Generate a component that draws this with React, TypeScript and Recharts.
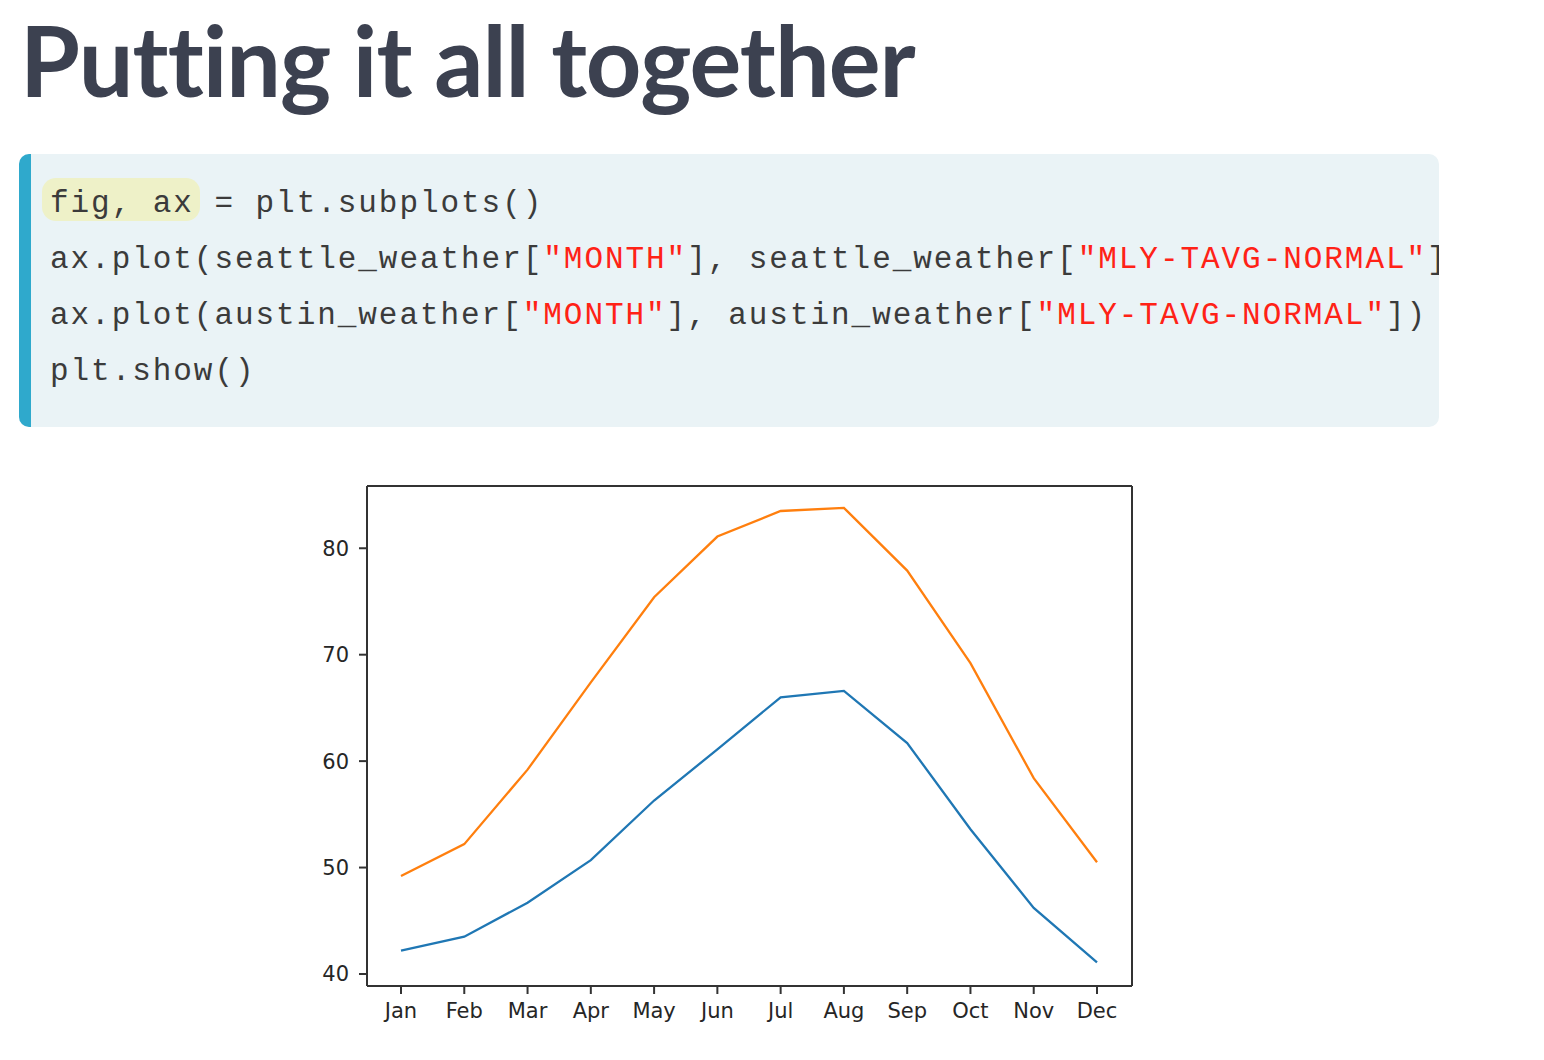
import React from "react";
import { LineChart, Line, XAxis, YAxis } from "recharts";

const months = ["Jan", "Feb", "Mar", "Apr", "May", "Jun", "Jul", "Aug", "Sep", "Oct", "Nov", "Dec"];
const seattleTemp = [42.2, 43.5, 46.7, 50.7, 56.3, 61.1, 66.0, 66.6, 61.7, 53.6, 46.2, 41.1];
const austinTemp = [49.2, 52.2, 59.2, 67.4, 75.4, 81.1, 83.5, 83.8, 77.9, 69.2, 58.4, 50.5];
const yTicks = [40, 50, 60, 70, 80];
const yDomain = [38.87, 85.85];

const data = months.map((m, i) => ({ month: m, seattle: seattleTemp[i], austin: austinTemp[i] }));

const codeFont = "'Liberation Mono', 'DejaVu Sans Mono', monospace";
const textColor = "#3b3b3b";
const strColor = "#ff2216";

const S = ({ children }: { children: React.ReactNode }) => <span style={{ color: strColor }}>{children}</span>;

const tickStyle = { fill: "#262626", fontSize: 21, fontFamily: "'DejaVu Sans', sans-serif" };
const frame = { stroke: "#333", strokeWidth: 2 };

export default function App() {
  return (
    <div style={{ position: "absolute", left: 0, top: 0, width: 1544, height: 1060, background: "#fff", overflow: "hidden" }}>
      <div
        style={{
          position: "absolute",
          left: 20,
          top: 0,
          fontFamily: "Lato, sans-serif",
          fontWeight: 700,
          fontSize: 97,
          lineHeight: "120px",
          color: "#3c4150",
          whiteSpace: "nowrap",
          letterSpacing: -1,
        }}
      >
        Putting it all together
      </div>

      <div
        style={{
          position: "absolute",
          left: 19,
          top: 154,
          width: 1420,
          height: 273,
          background: "#eaf3f6",
          borderRadius: 10,
          overflow: "hidden",
        }}
      >
        <div style={{ position: "absolute", left: 0, top: 0, width: 12, height: 273, background: "#2fa9cc" }} />
        <div
          style={{
            position: "absolute",
            left: 23,
            top: 24,
            width: 158,
            height: 43,
            background: "#eef1c8",
            borderRadius: 14,
          }}
        />
        <pre
          style={{
            position: "absolute",
            left: 31,
            top: 22,
            margin: 0,
            fontFamily: codeFont,
            fontSize: 31,
            letterSpacing: 1.95,
            lineHeight: "56px",
            color: textColor,
            whiteSpace: "pre",
          }}
        >
          {"fig, ax = plt.subplots()\n"}
          {"ax.plot(seattle_weather["}<S>"MONTH"</S>{"], seattle_weather["}<S>"MLY-TAVG-NORMAL"</S>{"])\n"}
          {"ax.plot(austin_weather["}<S>"MONTH"</S>{"], austin_weather["}<S>"MLY-TAVG-NORMAL"</S>{"])\n"}
          {"plt.show()"}
        </pre>
      </div>

      <div style={{ position: "absolute", left: 280, top: 470 }}>
        <LineChart
          width={880}
          height={580}
          data={data}
          margin={{ top: 15, left: 27, right: 27, bottom: 34 }}
        >
          <XAxis
            dataKey="month"
            xAxisId="bottom"
            height={30}
            padding={{ left: 34, right: 35 }}
            axisLine={frame}
            tickLine={frame}
            tickSize={8}
            tickMargin={9}
            tick={tickStyle}
            interval={0}
          />
          <XAxis
            dataKey="month"
            xAxisId="top"
            orientation="top"
            height={1}
            padding={{ left: 34, right: 35 }}
            axisLine={frame}
            tickLine={false}
            tick={false}
          />
          <YAxis
            yAxisId="left"
            width={60}
            type="number"
            domain={yDomain}
            ticks={yTicks}
            allowDataOverflow
            axisLine={frame}
            tickLine={frame}
            tickSize={8}
            tickMargin={10}
            tick={tickStyle}
          />
          <YAxis
            yAxisId="right"
            orientation="right"
            width={1}
            type="number"
            domain={yDomain}
            allowDataOverflow
            axisLine={frame}
            tickLine={false}
            tick={false}
          />
          <Line
            xAxisId="top"
            yAxisId="right"
            type="linear"
            dataKey="seattle"
            stroke="none"
            dot={false}
            activeDot={false}
            legendType="none"
            isAnimationActive={false}
          />
          <Line
            xAxisId="bottom"
            yAxisId="left"
            type="linear"
            dataKey="seattle"
            stroke="#1f77b4"
            strokeWidth={2.3}
            dot={false}
            isAnimationActive={false}
          />
          <Line
            xAxisId="bottom"
            yAxisId="left"
            type="linear"
            dataKey="austin"
            stroke="#ff7f0e"
            strokeWidth={2.3}
            dot={false}
            isAnimationActive={false}
          />
        </LineChart>
      </div>
    </div>
  );
}
